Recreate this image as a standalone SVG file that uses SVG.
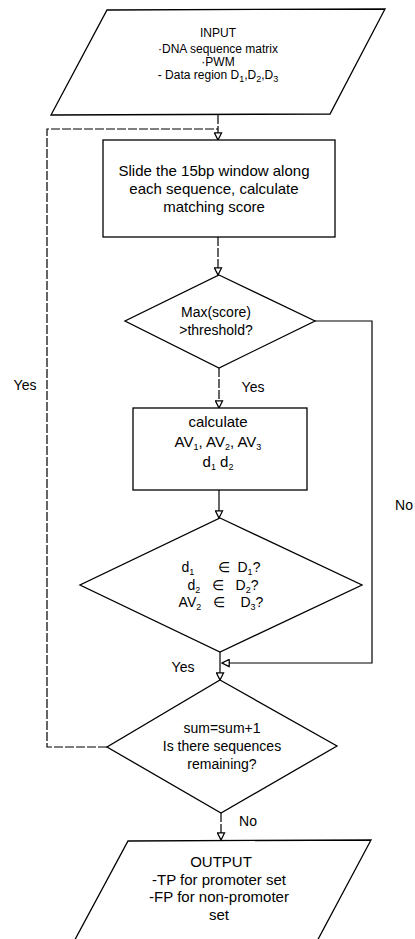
<svg xmlns="http://www.w3.org/2000/svg" width="415" height="939" viewBox="0 0 415 939">
<defs>
<style>
.shape{fill:#fff;stroke:#000;stroke-width:1.3}
.ln{fill:none;stroke:#000;stroke-width:1.2}
.dash{stroke-dasharray:9 2}
text{font-family:"Liberation Sans",Arial,sans-serif;fill:#000;text-anchor:middle}
.t12{font-size:12px}
.t14{font-size:14px}
.t15{font-size:15px}
.sub{font-size:9px}
</style>
<marker id="arr" viewBox="0 0 10 10" refX="9" refY="5" markerWidth="9" markerHeight="9" markerUnits="userSpaceOnUse" orient="auto">
<path d="M1,1 L9,5 L1,9 Z" fill="#fff" stroke="#000" stroke-width="1.4"/>
</marker>
</defs>
<rect width="415" height="939" fill="#fff"/>
<g id="connectors">
<line class="ln dash" x1="218" y1="115" x2="218" y2="140" marker-end="url(#arr)"/>
<polyline class="ln dash" points="107,747 47,747 47,129 218,129"/>
<line class="ln dash" x1="218" y1="237" x2="218" y2="275" marker-end="url(#arr)"/>
<line class="ln dash" x1="219" y1="368" x2="219" y2="408" marker-end="url(#arr)"/>
<polyline class="ln" points="315,321 372,321 372,663 222,663" marker-end="url(#arr)"/>
<line class="ln" x1="219" y1="490" x2="219" y2="518" marker-end="url(#arr)"/>
<line class="ln" x1="220" y1="652" x2="220" y2="680" marker-end="url(#arr)"/>
<line class="ln dash" x1="221" y1="813" x2="221" y2="840" marker-end="url(#arr)"/>
<text class="t14" x="25" y="390">Yes</text>
<text class="t14" x="253" y="392">Yes</text>
<text class="t14" x="404" y="510">No</text>
<text class="t14" x="183" y="672">Yes</text>
<text class="t14" x="248" y="826">No</text>
</g>
<g id="input">
<polygon class="shape" points="107,10 385,9 330,114 51,115"/>
<text class="t12" x="218" y="37">INPUT</text>
<text class="t12" x="218" y="52.5">·DNA sequence matrix</text>
<text class="t12" x="218" y="65.5">·PWM</text>
<text class="t12" x="218" y="78.5">- Data region  D<tspan class="sub" dy="3">1</tspan><tspan dy="-3">,D</tspan><tspan class="sub" dy="3">2</tspan><tspan dy="-3">,D</tspan><tspan class="sub" dy="3">3</tspan></text>
</g>
<g id="slide">
<rect class="shape" x="103" y="140" width="232" height="97"/>
<text class="t15" x="214" y="176">Slide the 15bp window along</text>
<text class="t15" x="214" y="194">each sequence, calculate</text>
<text class="t15" x="214" y="212">matching score</text>
</g>
<g id="threshold">
<polygon class="shape" points="219,275 315,321 219,368 125,321"/>
<text class="t14" x="216" y="317">Max(score)</text>
<text class="t14" x="216" y="335">&gt;threshold?</text>
</g>
<g id="calc">
<rect class="shape" x="133" y="408" width="174" height="82"/>
<text class="t15" x="218" y="427">calculate</text>
<text class="t15" x="218" y="447">AV<tspan class="sub" dy="3">1</tspan><tspan dy="-3">, AV</tspan><tspan class="sub" dy="3">2</tspan><tspan dy="-3">, AV</tspan><tspan class="sub" dy="3">3</tspan></text>
<text class="t15" x="218" y="467">d<tspan class="sub" dy="3">1</tspan><tspan dy="-3">  d</tspan><tspan class="sub" dy="3">2</tspan></text>
</g>
<g id="inrange">
<polygon class="shape" points="220,518 362,585 220,652 80,585"/>
<text class="t14" x="221" y="572" xml:space="preserve">d<tspan class="sub" dy="3">1</tspan><tspan dy="-3">      ∈  D</tspan><tspan class="sub" dy="3">1</tspan><tspan dy="-3">?</tspan></text>
<text class="t14" x="223" y="590" xml:space="preserve">d<tspan class="sub" dy="3">2</tspan><tspan dy="-3">   ∈   D</tspan><tspan class="sub" dy="3">2</tspan><tspan dy="-3">?</tspan></text>
<text class="t14" x="221" y="607" xml:space="preserve">AV<tspan class="sub" dy="3">2</tspan><tspan dy="-3">   ∈    D</tspan><tspan class="sub" dy="3">3</tspan><tspan dy="-3">?</tspan></text>
</g>
<g id="remaining">
<polygon class="shape" points="220,680 337,746 221,813 107,747"/>
<text class="t14" x="222" y="733">sum=sum+1</text>
<text class="t14" x="222" y="751">Is there sequences</text>
<text class="t14" x="222" y="769">remaining?</text>
</g>
<g id="output">
<polygon class="shape" points="128,841 371,840 307,960 64,960"/>
<text class="t15" x="221" y="867">OUTPUT</text>
<text class="t15" x="219" y="885">-TP for promoter set</text>
<text class="t15" x="219" y="902">-FP for non-promoter</text>
<text class="t15" x="219" y="920">set</text>
</g>
</svg>
